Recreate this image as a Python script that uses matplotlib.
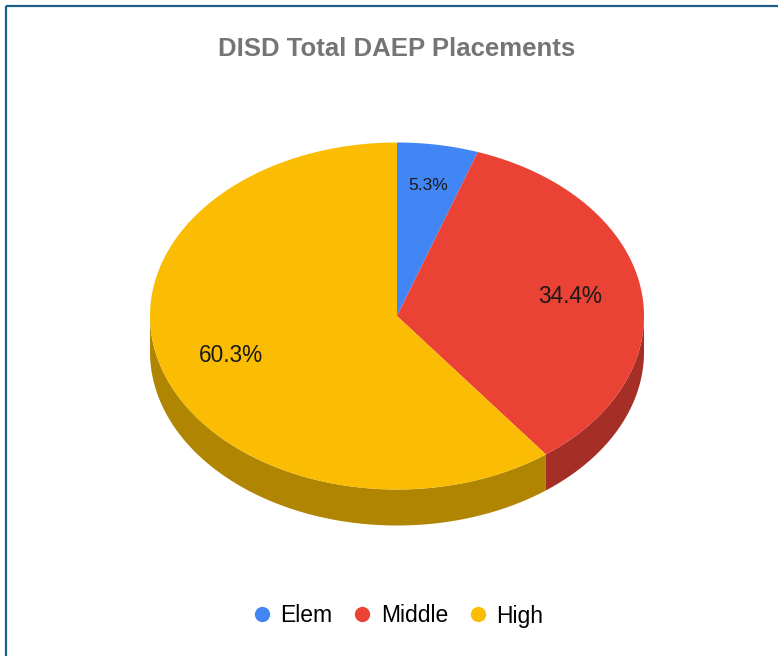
import numpy as np
import matplotlib.pyplot as plt
from matplotlib.patches import Polygon, Rectangle
from matplotlib.lines import Line2D

plt.rcParams['font.family'] = ['Liberation Sans', 'DejaVu Sans']

# данные
labels = ['Elem', 'Middle', 'High']
values = [5.3, 34.4, 60.3]
colors = ['#4285F4', '#EA4335', '#FBBC04']
side_colors = ['#2E5DAB', '#A52F26', '#B08502']
title = 'DISD Total DAEP Placements'

# геометрия "3D" круга в пикселях
cx, cy = 397, 316
rx, ry = 247, 173.5
depth = 36


def pt(t, dy=0.0):
    return cx + rx * np.sin(t), cy - ry * np.cos(t) + dy


fig = plt.figure(figsize=(7.78, 6.56), dpi=100)
ax = fig.add_axes([0, 0, 1, 1])
ax.set_xlim(0, 778)
ax.set_ylim(656, 0)
ax.axis('off')

# рамка
ax.add_patch(Rectangle((6, 6), 800, 700, fill=False, edgecolor='#1B5E88', lw=1.6))

total = sum(values)
fr = np.cumsum([0] + values) / total * 2 * np.pi

# боковые стенки (только передняя половина)
for i in range(len(values)):
    a0 = max(fr[i], np.pi / 2)
    a1 = min(fr[i + 1], 3 * np.pi / 2)
    if a1 <= a0:
        continue
    t = np.linspace(a0, a1, 200)
    xt, yt = pt(t)
    xb, yb = pt(t[::-1], depth)
    poly = np.column_stack([np.concatenate([xt, xb]), np.concatenate([yt, yb])])
    ax.add_patch(Polygon(poly, closed=True, facecolor=side_colors[i], edgecolor='none'))

# верх
for i in range(len(values)):
    t = np.linspace(fr[i], fr[i + 1], 300)
    xs, ys = pt(t)
    poly = np.column_stack([np.concatenate([[cx], xs]), np.concatenate([[cy], ys])])
    ax.add_patch(Polygon(poly, closed=True, facecolor=colors[i], edgecolor='none'))

# подписи процентов
for i in range(len(values)):
    mid = (fr[i] + fr[i + 1]) / 2
    f = 0.76 if values[i] < 10 else 0.71
    x = cx + rx * f * np.sin(mid)
    y = cy - ry * f * np.cos(mid)
    fs = 12.5 if values[i] < 10 else 16.3
    ax.text(x, y, f'{values[i]:.1f}%', ha='center', va='center', fontsize=fs, color='#1a1a1a')

ax.text(397, 49, title, ha='center', va='center', fontsize=18.5, fontweight='bold', color='#757575')

handles = [Line2D([], [], marker='o', ls='none', markersize=11, markerfacecolor=c,
                  markeredgecolor='none') for c in colors]
fig.legend(handles, labels, loc='center', bbox_to_anchor=(397 / 778, 1 - 616 / 656),
           ncol=3, frameon=False, fontsize=16.5, handletextpad=0.3, columnspacing=0.8,
           handlelength=1.0)

fig.savefig('out.png', dpi=100)
